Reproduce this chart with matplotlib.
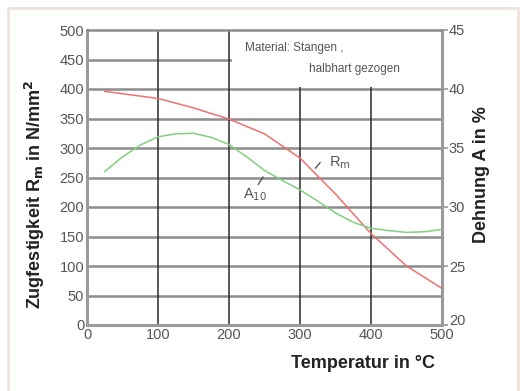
import matplotlib
matplotlib.use("Agg")
import matplotlib.pyplot as plt
import matplotlib.transforms as mtransforms
from matplotlib import font_manager
from matplotlib.patches import Rectangle

# ---- data ----
temp_rm = [25, 50, 100, 150, 200, 250, 300, 350, 400, 450, 500]
rm_vals = [396, 392, 384, 368, 349, 324, 283, 222, 155, 100, 62]

temp_a = [25, 50, 75, 100, 125, 150, 175, 200, 225, 250, 275, 300, 325, 350, 375, 400, 425, 450, 475, 500]
a_vals = [33.0, 34.25, 35.25, 35.95, 36.2, 36.25, 35.9, 35.3, 34.25, 33.1, 32.25, 31.45, 30.5, 29.5, 28.7, 28.2, 28.0, 27.85, 27.9, 28.1]

x_ticks = [0, 100, 200, 300, 400, 500]
y_left_ticks = [0, 50, 100, 150, 200, 250, 300, 350, 400, 450, 500]
y_right_ticks = [20, 25, 30, 35, 40, 45]

names = {f.name for f in font_manager.fontManager.ttflist}
narrow = 'Liberation Sans Narrow' if 'Liberation Sans Narrow' in names else 'Liberation Sans'
plt.rcParams['font.family'] = ['Liberation Sans', 'DejaVu Sans']

fig = plt.figure(figsize=(5.2, 3.91), dpi=100)
fig.patch.set_facecolor('white')
# beige frame
fig.patches.append(Rectangle((8/520, -0.02), 510/520, 1 - 8/391 + 0.02, transform=fig.transFigure,
                             fill=False, edgecolor='#f0e4da', linewidth=2))

ax = fig.add_axes([87/520, 1 - 325/391, 355/520, 295/391])
ax.set_xlim(0, 500)
ax.set_ylim(0, 500)

# grid
for y in y_left_ticks[1:-1]:
    ax.axhline(y, color='#8c8c8c', lw=1.8, zorder=1)
for x in x_ticks[1:-1]:
    ax.axvline(x, color='#2a2a2a', lw=1.1, zorder=1)

# text box covering grid
ax.add_patch(Rectangle((204, 403), 300, 95, facecolor='white', edgecolor='none', zorder=2))
ax.text(222, 469, 'Material: Stangen ,', fontsize=8.5, color='#555555', va='center', family=narrow, zorder=3)
ax.text(312, 434, 'halbhart gezogen', fontsize=8.5, color='#555555', va='center', family=narrow, zorder=3)

for s in ['left', 'bottom', 'right', 'top']:
    ax.spines[s].set_color('#9a9a9a')
    ax.spines[s].set_linewidth(2.2)
ax.spines['top'].set_color('#8c8c8c')
ax.spines['top'].set_linewidth(1.8)

ax.plot(temp_rm, rm_vals, color='#ee7070', lw=1.1, zorder=4)

ax2 = ax.twinx()
ax2.set_ylim(20, 45)
ax2.plot(temp_a, a_vals, color='#80d080', lw=1.1, zorder=4)
for s in ['left', 'bottom', 'right', 'top']:
    ax2.spines[s].set_visible(False)

ax.set_xticks(x_ticks)
ax.set_yticks(y_left_ticks)
ax2.set_yticks(y_right_ticks)
ax.tick_params(axis='both', length=0, pad=2, labelsize=10.5, labelcolor='#555555')
ax2.tick_params(axis='y', length=4, width=1.2, color='#9a9a9a', pad=1, labelsize=10.5, labelcolor='#555555')
for lab in ax.get_xticklabels() + ax.get_yticklabels() + ax2.get_yticklabels():
    lab.set_family(narrow)
# lift the lowest right-hand label slightly, as in the reference
lab20 = ax2.get_yticklabels()[0]
lab20.set_transform(lab20.get_transform() + mtransforms.ScaledTranslation(0, 4/72, fig.dpi_scale_trans))

# curve labels
ax.annotate('', xy=(331, 279), xytext=(319, 262),
            arrowprops=dict(arrowstyle='-', color='#555555', lw=1))
ax.text(341, 275, r'R$_\mathrm{m}$', fontsize=10.5, color='#555555', va='center', family=narrow)
ax.annotate('', xy=(250, 255), xytext=(239, 234),
            arrowprops=dict(arrowstyle='-', color='#555555', lw=1))
ax.text(220, 221, r'A$_{10}$', fontsize=10.5, color='#555555', va='center', family=narrow)

# axis labels
fig.text(35/520, 1 - 194/391, r'Zugfestigkeit R$_\mathbf{m}$ in N/mm$^\mathbf{2}$', rotation=90,
         fontsize=13, fontweight='bold', color='#222222', ha='center', va='center')
fig.text(482/520, 1 - 175/391, 'Dehnung A in %', rotation=90,
         fontsize=13, fontweight='bold', color='#222222', ha='center', va='center')
fig.text(363/520, 1 - 364/391, 'Temperatur in °C',
         fontsize=13, fontweight='bold', color='#222222', ha='center', va='center')

fig.savefig('out.png', dpi=100, facecolor='white')
